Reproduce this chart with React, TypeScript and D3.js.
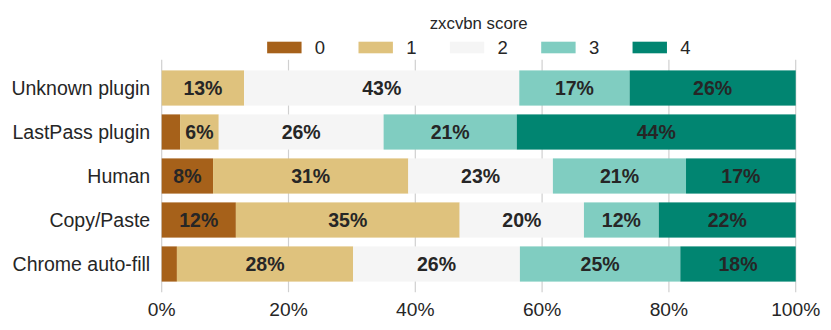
import React from "react";
import * as d3 from "d3";

const categories = ["Unknown plugin", "LastPass plugin", "Human", "Copy/Paste", "Chrome auto-fill"];
const scoreKeys = ["0", "1", "2", "3", "4"];
const score0 = [0, 2.9, 8.1, 11.7, 2.4];
const score1 = [13.0, 6.1, 30.8, 35.3, 27.8];
const score2 = [43.4, 26.0, 22.8, 19.6, 26.3];
const score3 = [17.4, 21.0, 21.0, 11.8, 25.3];
const score4 = [26.2, 44.0, 17.3, 21.6, 18.2];
const xTicks = [0, 20, 40, 60, 80, 100];
const colors = ["#a6611a", "#dfc27d", "#f5f5f5", "#80cdc1", "#018571"];
const legendTitle = "zxcvbn score";

const W = 831;
const H = 330;
const left = 161.7;
const right = 795.7;
const top = 59.8;
const bottom = 292.2;
const FONT = "'Liberation Sans', Arial, Helvetica, sans-serif";
const TXT = "#262626";

export default function App() {
  const series = [score0, score1, score2, score3, score4];
  const x = d3.scaleLinear().domain([0, 100]).range([left, right]);
  const y = d3
    .scaleBand<string>()
    .domain(categories)
    .range([66, 286])
    .paddingInner(0.2)
    .paddingOuter(0.1);

  const table = categories.map((c, i) => {
    const row: any = { cat: c };
    scoreKeys.forEach((k, j) => (row[k] = series[j][i]));
    return row;
  });
  const stacked = d3.stack<any>().keys(scoreKeys)(table);

  const cx = (left + right) / 2;
  const step = 91.35;
  const swW = 34.4;
  const legendStart = cx - (step * 4 + 47.7 + 10) / 2;

  return (
    <svg
      width={W}
      height={H}
      style={{ position: "absolute", left: 0, top: 0, background: "#fff" }}
      fontFamily={FONT}
    >
      {xTicks.map((t) => (
        <line key={t} x1={x(t)} x2={x(t)} y1={top} y2={bottom} stroke="#d0d0d0" strokeWidth={1.2} />
      ))}
      {stacked.map((layer, j) => (
        <g key={layer.key}>
          {layer.map((d, i) => {
            const w = x(d[1]) - x(d[0]);
            if (w <= 0) return null;
            return (
              <rect
                key={i}
                x={x(d[0])}
                y={y(categories[i])}
                width={w}
                height={y.bandwidth()}
                fill={colors[j]}
              />
            );
          })}
        </g>
      ))}
      {stacked.map((layer) => (
        <g key={"l" + layer.key}>
          {layer.map((d, i) => {
            const v = d[1] - d[0];
            if (v < 5) return null;
            return (
              <text
                key={i}
                x={(x(d[0]) + x(d[1])) / 2}
                y={(y(categories[i]) as number) + y.bandwidth() / 2}
                dy="0.36em"
                textAnchor="middle"
                fontWeight="bold"
                fontSize={19.5}
                fill={TXT}
              >
                {Math.round(v)}%
              </text>
            );
          })}
        </g>
      ))}
      {categories.map((c) => (
        <text
          key={c}
          x={left - 11.5}
          y={(y(c) as number) + y.bandwidth() / 2}
          dy="0.35em"
          textAnchor="end"
          fontSize={19.5}
          fill={TXT}
        >
          {c}
        </text>
      ))}
      {xTicks.map((t) => (
        <text key={"t" + t} x={x(t)} y={316} textAnchor="middle" fontSize={19.2} fill={TXT}>
          {t}%
        </text>
      ))}
      <text x={cx} y={29} textAnchor="middle" fontSize={16.8} fill={TXT}>
        {legendTitle}
      </text>
      {scoreKeys.map((k, j) => (
        <g key={"lg" + k}>
          <rect x={legendStart + j * step} y={41.7} width={swW} height={11.6} fill={colors[j]} />
          <text x={legendStart + j * step + 47.7} y={54} fontSize={18.5} fill={TXT}>
            {k}
          </text>
        </g>
      ))}
    </svg>
  );
}
